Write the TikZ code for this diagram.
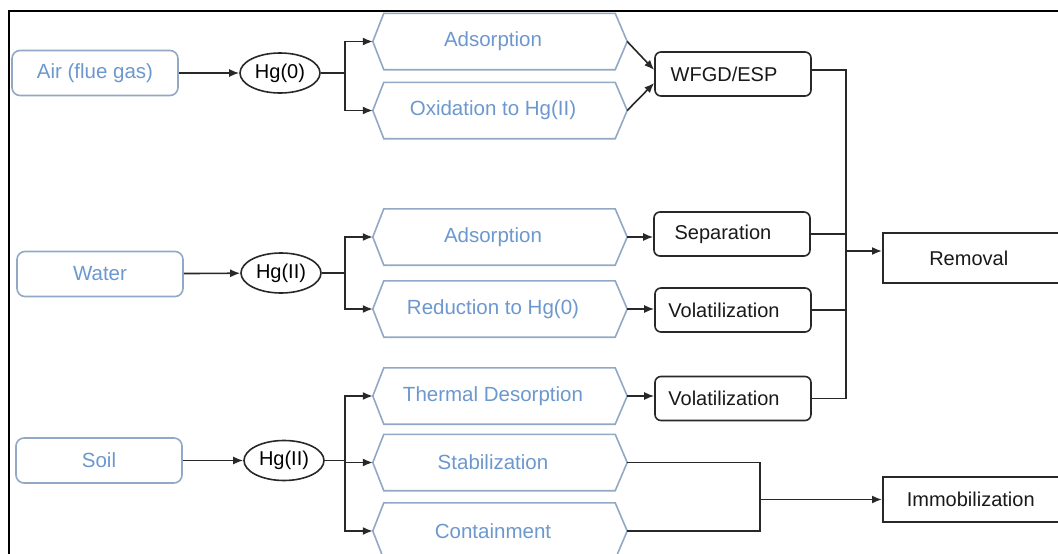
\documentclass[tikz,border=0pt]{standalone}
\usepackage{fontspec}
\setmainfont{Liberation Sans}
\usetikzlibrary{arrows.meta,shapes.geometric}
\definecolor{bluetxt}{RGB}{108,152,206}
\definecolor{blueline}{RGB}{146,168,196}
\definecolor{darkline}{RGB}{40,40,40}
\begin{document}
\begin{tikzpicture}[x=1pt,y=-1pt, font=\fontsize{20}{24}\selectfont,
  src/.style={draw=blueline, line width=1.6pt, rounded corners=8pt, text=bluetxt, font=\fontsize{20.5}{24}\selectfont, minimum width=166pt, minimum height=45pt, inner sep=0pt},
  hg/.style={ellipse, draw=darkline, line width=1.6pt, minimum width=80pt, minimum height=40pt, inner sep=0pt, text=black},
  hexnode/.style={minimum width=254pt, minimum height=56pt, inner sep=0pt, text=bluetxt, font=\fontsize{20.5}{24}\selectfont, execute at end node={\hspace*{14pt}}},
  hexline/.style={draw=blueline, line width=1.6pt, line join=miter},
  proc/.style={draw=darkline, line width=1.6pt, rounded corners=6pt, minimum width=156pt, minimum height=44pt, inner sep=0pt, text=black!90, execute at end node={\hspace*{18pt}}},
  outbox/.style={draw=darkline, line width=1.5pt, minimum width=200pt, inner sep=0pt, anchor=west, text=black!90},
  conn/.style={draw=darkline, line width=1.6pt},
  arr/.style={conn, -{Latex[length=10pt,width=8pt]}},
]
\useasboundingbox (0,0) rectangle (1058,554);
\clip (0,0) rectangle (1058,554);
\fill[white] (0,0) rectangle (1058,554);
% frame
\draw[line width=1.5pt, black] (9,560) -- (9,11) -- (1065,11);

% sources
\node[src] (air) at (95,73) {Air (flue gas)};
\node[src] (water) at (100,274) {Water};
\node[src] (soil) at (99,460.5) {Soil};
% mercury species
\node[hg] (hg1) at (280,73) {Hg(0)};
\node[hg] (hg2) at (281,273) {Hg(II)};
\node[hg] (hg3) at (284,460.5) {Hg(II)};
% processes (hexagons)
\node[hexnode] (ads1) at (500,41.5) {Adsorption};
\node[hexnode] (oxi) at (500,110.5) {Oxidation to Hg(II)};
\node[hexnode] (ads2) at (500,237) {Adsorption};
\node[hexnode] (red) at (500,309) {Reduction to Hg(0)};
\node[hexnode] (td) at (500,396) {Thermal Desorption};
\node[hexnode] (stab) at (500,462.5) {Stabilization};
\node[hexnode] (cont) at (500,531) {Containment};
\foreach \n in {ads1,oxi,ads2,red,td,stab,cont}
  \draw[hexline] (\n.west) -- ([xshift=11pt]\n.north west) -- ([xshift=-12pt]\n.north east) -- (\n.east) -- ([xshift=-12pt]\n.south east) -- ([xshift=11pt]\n.south west) -- cycle;
% treatment boxes
\node[proc] (wfgd) at (733,74) {WFGD/ESP};
\node[proc] (sep) at (732,234) {Separation};
\node[proc] (vol1) at (733,310) {Volatilization};
\node[proc] (vol2) at (733,398.5) {Volatilization};
% outcomes
\node[outbox, minimum height=50pt] (rem) at (882,258) {Removal\hspace*{28pt}};
\node[outbox, minimum height=45pt] (imm) at (882,499.5) {Immobilization\hspace*{24pt}};

% air row
\draw[arr] (air) -- (hg1);
\coordinate (s1) at (345,73);
\draw[conn] (hg1) -- (s1);
\draw[arr] (s1) |- (ads1.west);
\draw[arr] (s1) |- (oxi.west);
\draw[arr] (ads1.east) -- ([yshift=4pt]wfgd.west);
\draw[arr] (oxi.east) -- ([yshift=-9pt]wfgd.west);
% water row
\draw[arr] (water) -- (hg2);
\coordinate (s2) at (345,273);
\draw[conn] (hg2) -- (s2);
\draw[arr] (s2) |- (ads2.west);
\draw[arr] (s2) |- (red.west);
\draw[arr] (ads2.east) -- (ads2.east -| sep.west);
\draw[arr] (red.east) -- (red.east -| vol1.west);
% soil row
\draw[arr] (soil) -- (hg3);
\coordinate (s3) at (345,460.5);
\draw[conn] (hg3) -- (s3);
\draw[arr] (s3) |- (td.west);
\draw[arr] (s3) |- (stab.west);
\draw[arr] (s3) |- (cont.west);
\draw[arr] (td.east) -- (td.east -| vol2.west);
% removal bus
\coordinate (bx) at (846,0);
\draw[conn] ([yshift=4pt]wfgd.east) -| (bx |- vol2.east) -- (vol2.east);
\draw[conn] (sep.east) -- (sep.east -| bx);
\draw[conn] (vol1.east) -- (vol1.east -| bx);
\draw[arr] ([yshift=7pt]rem.west -| bx) -- ([yshift=7pt]rem.west);
% immobilization join
\coordinate (jx) at (760,0);
\draw[conn] (stab.east) -| (jx |- cont.east) -- (cont.east);
\draw[arr] (jx |- imm.west) -- (imm.west);
\end{tikzpicture}
\end{document}
